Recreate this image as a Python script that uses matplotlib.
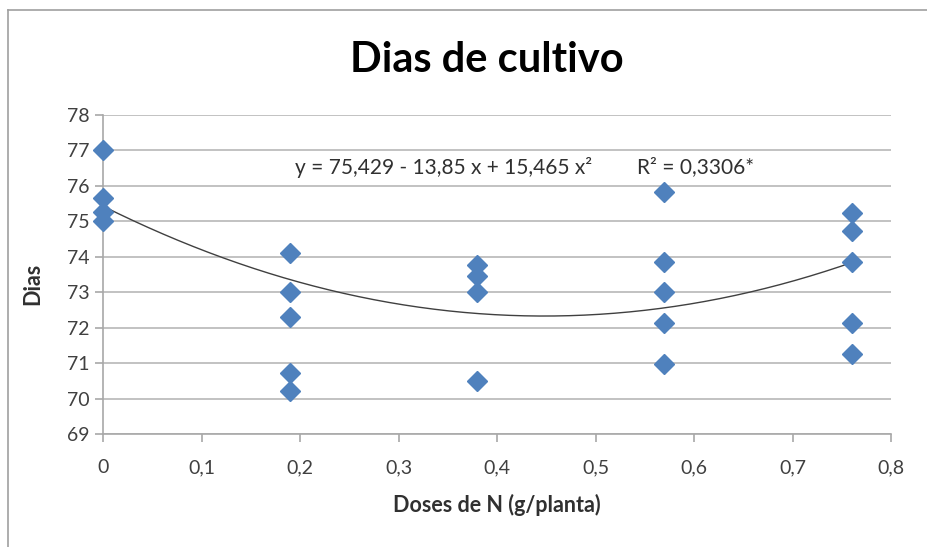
import matplotlib
matplotlib.use("Agg")
import matplotlib.pyplot as plt
import numpy as np
from matplotlib.ticker import FuncFormatter, MultipleLocator
from matplotlib.lines import Line2D

# Data
doses = [0.0]*4 + [0.19]*5 + [0.38]*4 + [0.57]*5 + [0.76]*5
dias = [77.0, 75.65, 75.25, 75.0,
        74.1, 73.0, 72.3, 70.72, 70.22,
        73.77, 73.47, 73.0, 70.5,
        75.83, 73.85, 73.0, 72.13, 70.98,
        75.23, 74.73, 73.85, 72.13, 71.25]
coef = [75.429, -13.85, 15.465]
eq_text = "y = 75,429 - 13,85 x + 15,465 x²"
r2_text = "R² = 0,3306*"

plt.rcParams['font.family'] = ['Lato', 'DejaVu Sans']

fig = plt.figure(figsize=(9.28, 5.47), dpi=100)
ax = fig.add_axes([103/928, 1-434/547, (891-103)/928, (434-115)/547])

# outer chart frame
fig.add_artist(Line2D([8/928, 8/928], [0, 1-10/547], transform=fig.transFigure, color='#a0a0a0', lw=1.2))
fig.add_artist(Line2D([8/928, 1], [1-10/547, 1-10/547], transform=fig.transFigure, color='#a0a0a0', lw=1.2))

xs = np.linspace(0, 0.76, 200)
ys = coef[0] + coef[1]*xs + coef[2]*xs**2
ax.plot(xs, ys, color='#404040', lw=1.0, zorder=2)
ax.plot(doses, dias, linestyle='none', marker='D', markersize=10, color='#4F81BD', zorder=3, clip_on=False)

ax.set_xlim(0, 0.8)
ax.set_ylim(69, 78)
ax.xaxis.set_major_locator(MultipleLocator(0.1))
ax.yaxis.set_major_locator(MultipleLocator(1))
ax.xaxis.set_major_formatter(FuncFormatter(lambda v, p: ('%g' % round(v, 2)).replace('.', ',')))
ax.grid(axis='y', color='#b8b8b8', lw=1.2)
ax.set_axisbelow(True)
for s in ['top', 'right']:
    ax.spines[s].set_visible(False)
for s in ['left', 'bottom']:
    ax.spines[s].set_color('#a8a8a8')
    ax.spines[s].set_linewidth(1.2)
ax.tick_params(axis='both', colors='#a8a8a8', labelcolor='#404040', labelsize=14, length=6, width=1.2)
ax.tick_params(axis='x', pad=12)

ax.text(0.195, 76.52, eq_text, fontsize=15, color='#303030', va='center', ha='left')
ax.text((637-103)/985, 76.52, r2_text, fontsize=15, color='#303030', va='center', ha='left')

fig.text(487/928, 1-60/547, "Dias de cultivo", fontsize=30, fontweight='bold', ha='center', va='center', color='black')
fig.text(497/928, 1-505/547, "Doses de N (g/planta)", fontsize=15.5, fontweight='bold', ha='center', va='center', color='#303030')
fig.text(33/928, 1-284/547, "Dias", fontsize=15.5, fontweight='bold', rotation=90, ha='center', va='center', color='#303030')

fig.savefig("out.png", dpi=100)
